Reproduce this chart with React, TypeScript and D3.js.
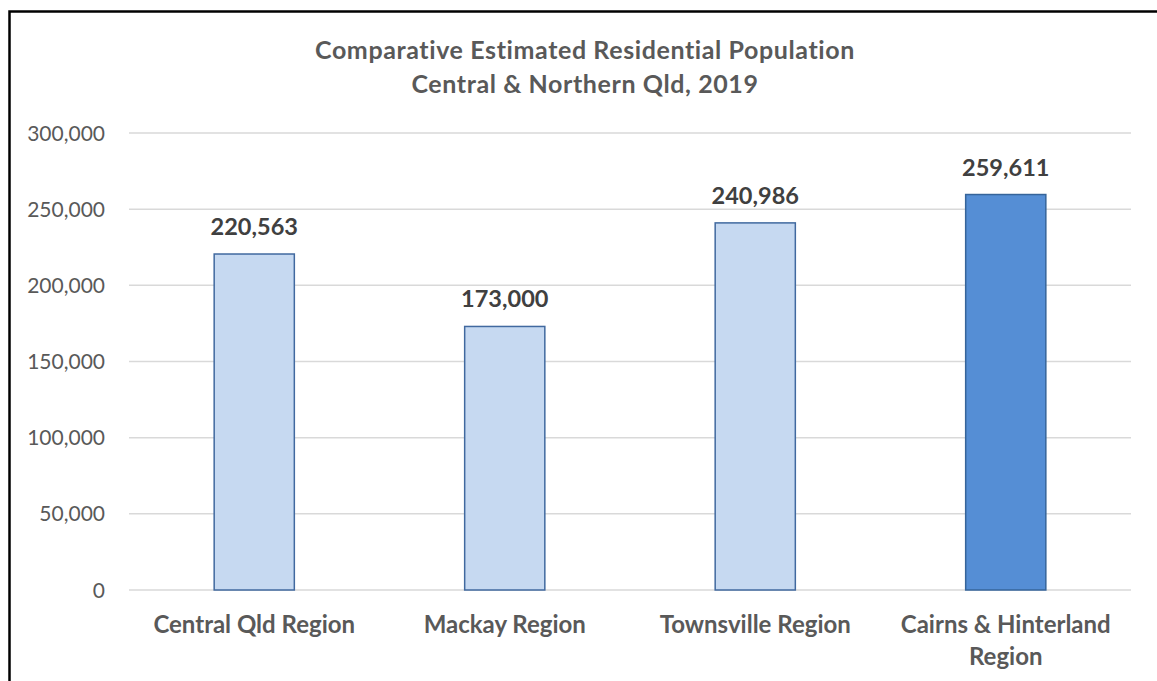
import React from "react";
import * as d3 from "d3";

const categories: string[][] = [
  ["Central Qld Region"],
  ["Mackay Region"],
  ["Townsville Region"],
  ["Cairns & Hinterland", "Region"],
];
const categoryKeys = ["Central Qld Region", "Mackay Region", "Townsville Region", "Cairns & Hinterland Region"];
const values = [220563, 173000, 240986, 259611];
const highlighted = [false, false, false, true];
const yTicks = [0, 50000, 100000, 150000, 200000, 250000, 300000];
const titleLines = ["Comparative Estimated Residential Population", "Central & Northern Qld, 2019"];

const W = 1157;
const H = 681;
const FONT = "Lato, 'Open Sans', sans-serif";

export default function App() {
  const x = d3.scaleBand<string>().domain(categoryKeys).range([129, 1131]).padding(0);
  const y = d3.scaleLinear().domain([0, 300000]).range([590, 133]);
  const fmt = d3.format(",");
  const barW = x.bandwidth() * 0.32;

  return (
    <svg
      width={W}
      height={H}
      style={{ position: "absolute", left: 0, top: 0, background: "#fff" }}
      fontFamily={FONT}
    >
      <rect x={0} y={0} width={W} height={H} fill="#fff" />
      {/* frame */}
      <path d={`M9.5,${H} L9.5,11.5 L${W},11.5`} fill="none" stroke="#000" strokeWidth={2.5} />

      {/* title */}
      {titleLines.map((t, i) => (
        <text
          key={i}
          x={585}
          y={58.5 + i * 34.5}
          textAnchor="middle"
          fontSize={25}
          letterSpacing={0.6}
          fontWeight={700}
          fill="#595959"
        >
          {t}
        </text>
      ))}

      {/* gridlines + y ticks */}
      {yTicks.map((t) => (
        <g key={t}>
          <line x1={129} x2={1131} y1={y(t)} y2={y(t)} stroke="#D9D9D9" strokeWidth={1.5} />
          <text x={105} y={y(t) + 7.5} textAnchor="end" fontSize={21} fill="#595959">
            {t === 0 ? "0" : fmt(t)}
          </text>
        </g>
      ))}

      {/* bars */}
      {values.map((v, i) => {
        const cx = (x(categoryKeys[i]) as number) + x.bandwidth() / 2;
        return (
          <g key={i}>
            <rect
              x={cx - barW / 2}
              y={y(v)}
              width={barW}
              height={y(0) - y(v)}
              fill={highlighted[i] ? "#558ED5" : "#C6D9F1"}
              stroke={highlighted[i] ? "#36649A" : "#41699F"}
              strokeWidth={1.5}
            />
            <text
              x={cx}
              y={y(v) - 19}
              textAnchor="middle"
              fontSize={23.5}
              fontWeight={700}
              fill="#404040"
            >
              {fmt(v)}
            </text>
            {categories[i].map((line, j) => (
              <text
                key={j}
                x={cx}
                y={633 + j * 32}
                textAnchor="middle"
                fontSize={24}
                fontWeight={700}
                fill="#595959"
              >
                {line}
              </text>
            ))}
          </g>
        );
      })}
    </svg>
  );
}
